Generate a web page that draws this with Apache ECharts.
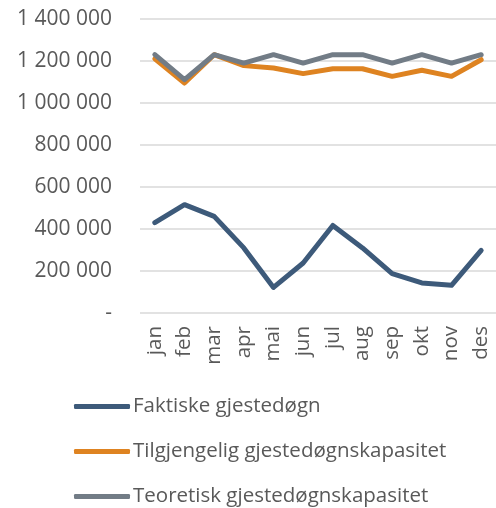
<!DOCTYPE html>
<html>
<head>
<meta charset="utf-8">
<script src="https://cdn.jsdelivr.net/npm/echarts@6/dist/echarts.min.js"></script>
<style>
  html, body { margin: 0; padding: 0; background: #fff; }
  #chart { width: 496px; height: 508px; }
</style>
</head>
<body>
<div id="chart"></div>
<script>
// måneder
var months = ['jan', 'feb', 'mar', 'apr', 'mai', 'jun', 'jul', 'aug', 'sep', 'okt', 'nov', 'des'];

var faktiske = [430000, 516000, 460000, 310000, 122000, 238000, 417000, 310000, 187000, 143000, 132000, 298000];
var tilgjengelig = [1210000, 1095000, 1230000, 1178000, 1167000, 1140000, 1163000, 1163000, 1127000, 1156000, 1127000, 1206000];
var teoretisk = [1230000, 1111000, 1230000, 1190000, 1230000, 1190000, 1230000, 1230000, 1190000, 1230000, 1190000, 1230000];

var seriesNames = ['Faktiske gjestedøgn', 'Tilgjengelig gjestedøgnskapasitet', 'Teoretisk gjestedøgnskapasitet'];
var yTicks = [0, 200000, 400000, 600000, 800000, 1000000, 1200000, 1400000];

var fontName = 'Open Sans';
var textColor = '#595959';

function fmt(v) {
  if (v === 0) return '-';
  return String(v).replace(/\B(?=(\d{3})+(?!\d))/g, ' ');
}

var chart = echarts.init(document.getElementById('chart'));
var option = {
  animation: false,
  color: ['#3d5a7a', '#de8321', '#727c86'],
  grid: {
    left: 140,
    right: -4,
    top: 19,
    height: 294
  },
  legend: {
    orient: 'vertical',
    left: 74,
    top: 396,
    padding: 0,
    itemWidth: 56,
    itemHeight: 5,
    itemGap: 24,
    icon: 'roundRect',
    textStyle: { fontFamily: fontName, fontSize: 20.5, color: textColor, padding: [0, 0, 0, -2] },
    data: seriesNames
  },
  xAxis: {
    type: 'category',
    data: months,
    boundaryGap: true,
    axisLine: { show: false },
    axisTick: { show: false },
    axisLabel: {
      rotate: 90,
      margin: 13,
      fontFamily: fontName,
      fontSize: 20.5,
      color: textColor
    }
  },
  yAxis: {
    type: 'value',
    min: yTicks[0],
    max: yTicks[yTicks.length - 1],
    interval: 200000,
    axisLine: { show: false },
    axisTick: { show: false },
    splitLine: { lineStyle: { color: '#d9d9d9', width: 1.5 } },
    axisLabel: {
      margin: 28,
      fontFamily: fontName,
      fontSize: 21,
      color: textColor,
      formatter: fmt
    }
  },
  series: [
    { name: seriesNames[0], type: 'line', data: faktiske, symbol: 'none', lineStyle: { width: 5, cap: 'round', join: 'round' } },
    { name: seriesNames[1], type: 'line', data: tilgjengelig, symbol: 'none', lineStyle: { width: 5, cap: 'round', join: 'round' } },
    { name: seriesNames[2], type: 'line', data: teoretisk, symbol: 'none', lineStyle: { width: 5, cap: 'round', join: 'round' } }
  ]
};
chart.setOption(option);
</script>
</body>
</html>
